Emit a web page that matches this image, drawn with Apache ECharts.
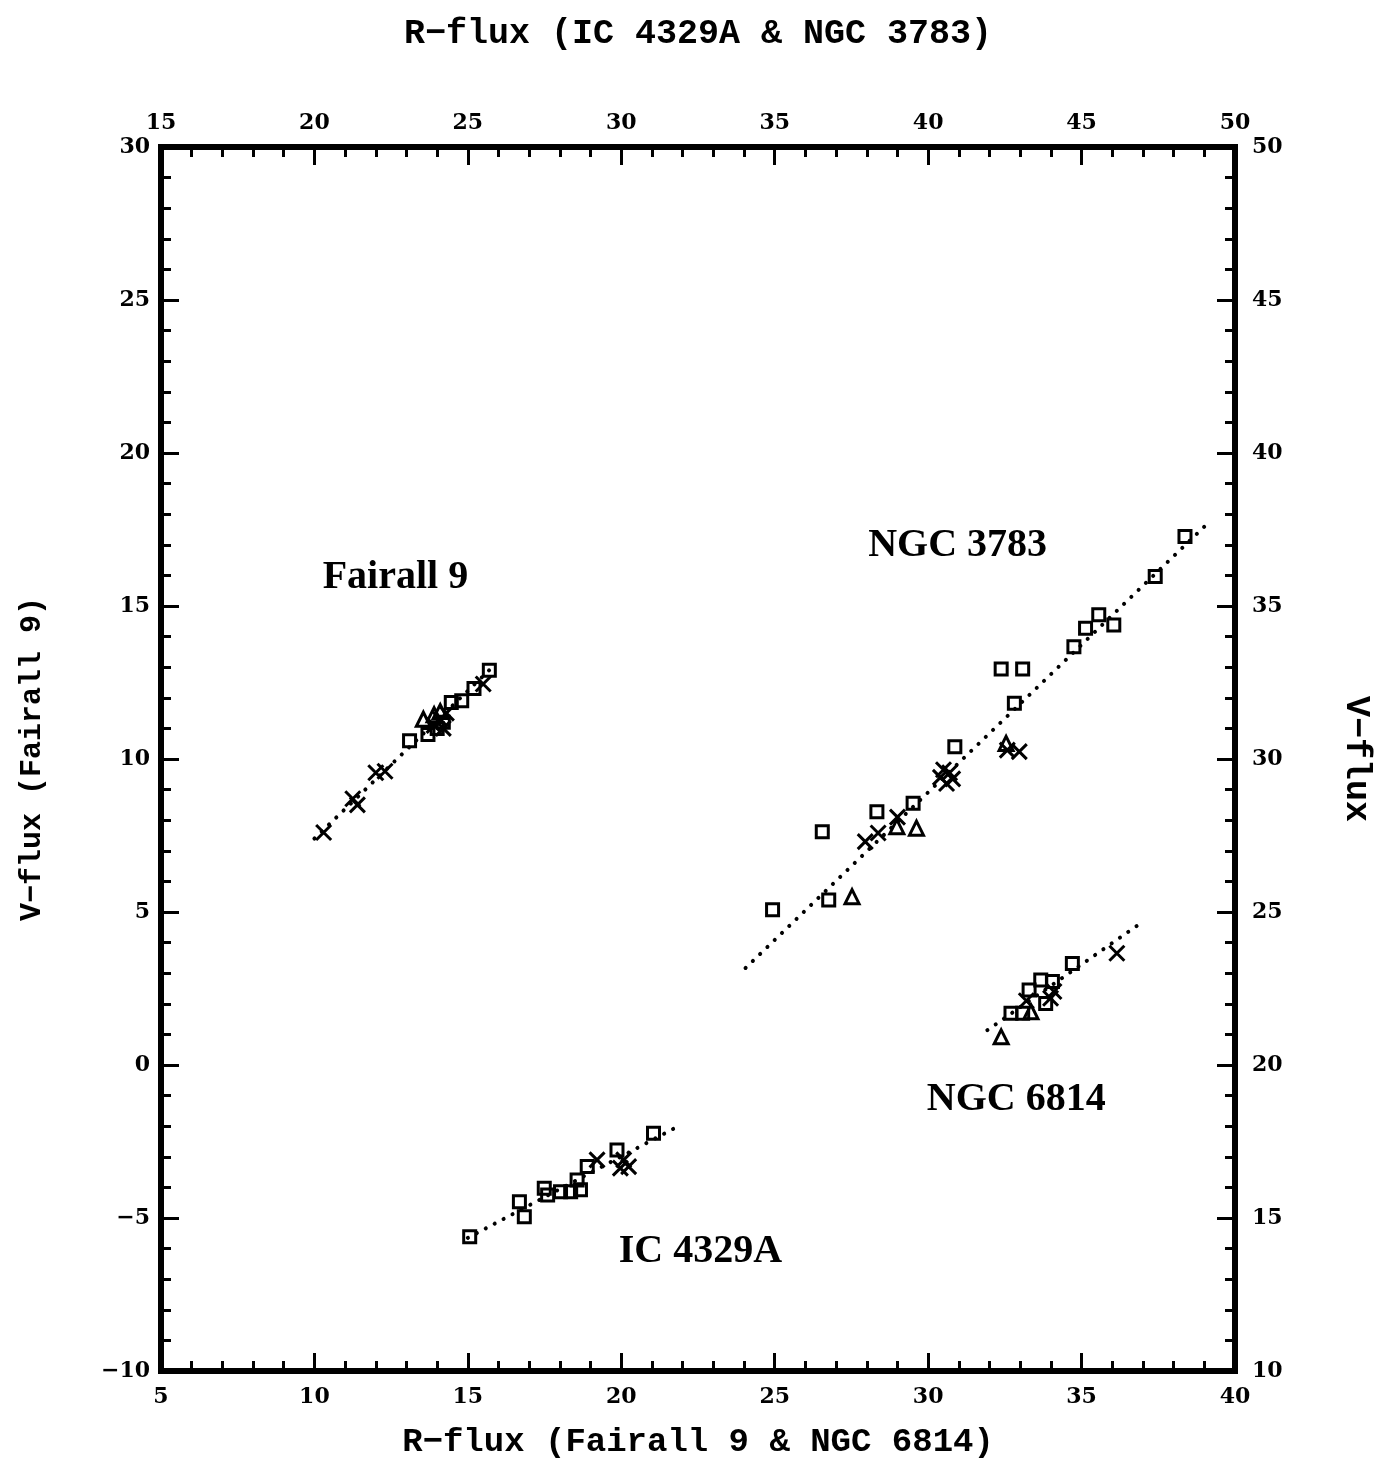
<!DOCTYPE html>
<html>
<head>
<meta charset="utf-8">
<script src="https://cdn.jsdelivr.net/npm/echarts@6/dist/echarts.min.js"></script>
<style>
  html, body { margin: 0; padding: 0; background: #fff; }
  #chart { width: 1381px; height: 1464px; }
</style>
</head>
<body>
<div id="chart"></div>
<script>
// ---- Fairall 9 : bottom R-flux axis, left V-flux axis ----
const fairall9Squares = [[13.1, 10.6], [13.7, 10.8], [14.0, 11.0], [14.2, 11.2], [14.46, 11.85],
  [14.8, 11.9], [15.2, 12.3], [15.7, 12.9]];
const fairall9Triangles = [[13.55, 11.3], [13.9, 11.45], [14.1, 11.55]];
const fairall9Crosses = [[10.3, 7.6], [11.25, 8.7], [11.4, 8.5], [12.0, 9.55], [12.3, 9.6],
  [13.9, 11.1], [14.1, 11.3], [14.3, 11.5], [14.2, 11.0], [15.5, 12.45]];
const fairall9Fit = [[10.0, 7.4], [15.9, 13.1]];

// ---- NGC 6814 : bottom R-flux axis, left V-flux axis ----
const ngc6814Squares = [[32.7, 1.69], [33.08, 1.69], [33.29, 2.45], [33.67, 2.78], [34.05, 2.73],
  [33.83, 2.01], [34.7, 3.32]];
const ngc6814Triangles = [[32.38, 0.92], [33.35, 1.74]];
const ngc6814Crosses = [[34.1, 2.4], [33.99, 2.18], [33.2, 2.1], [36.15, 3.65]];
const ngc6814Fit = [[31.93, 1.14], [36.85, 4.58]];

// ---- NGC 3783 : top R-flux axis, right V-flux axis ----
const ngc3783Squares = [[34.93, 25.07], [36.76, 25.39], [36.55, 27.62], [38.33, 28.28], [39.51, 28.55],
  [40.87, 30.4], [42.81, 31.82], [42.38, 32.94], [43.08, 32.94], [44.75, 33.67], [45.13, 34.27],
  [45.56, 34.71], [46.05, 34.38], [47.4, 35.96], [48.37, 37.27]];
const ngc3783Triangles = [[37.52, 25.5], [38.98, 27.79], [39.62, 27.74], [42.54, 30.51]];
const ngc3783Crosses = [[37.95, 27.3], [38.37, 27.58], [39.0, 28.1], [40.4, 29.4], [40.6, 29.2],
  [40.7, 29.55], [40.5, 29.65], [40.8, 29.35], [42.58, 30.29], [42.97, 30.24]];
const ngc3783Fit = [[34.05, 23.17], [49.12, 37.71]];

// ---- IC 4329A : top R-flux axis, right V-flux axis ----
const ic4329aSquares = [[25.06, 14.39], [26.68, 15.53], [26.84, 15.04], [27.49, 15.97], [27.6, 15.75],
  [28.02, 15.86], [28.35, 15.86], [28.67, 15.92], [28.56, 16.24], [28.89, 16.68], [29.86, 17.22],
  [31.05, 17.77]];
const ic4329aCrosses = [[29.21, 16.9], [30.08, 16.9], [30.24, 16.68], [29.97, 16.63]];
const ic4329aFit = [[25.0, 14.35], [31.8, 17.97]];

// ---- object labels (bottom / left scales) ----
const objectLabels = [
  { name: 'Fairall 9', value: [12.64, 15.92] },
  { name: 'NGC 3783', value: [30.96, 16.96] },
  { name: 'NGC 6814', value: [32.87, -1.14] },
  { name: 'IC 4329A', value: [22.58, -6.11] }
];

// ---- axis ranges ----
const bottomX = { min: 5, max: 40, step: 5 };
const topX = { min: 15, max: 50, step: 5 };
const leftY = { min: -10, max: 30, step: 5 };
const rightY = { min: 10, max: 50, step: 5 };

const CROSS = 'path://M0,0L10,10M10,0L0,10';
const TICK_FONT = { fontFamily: 'DejaVu Serif', fontWeight: 'bold', fontSize: 22, color: '#000' };
const NAME_FONT = { fontFamily: 'Liberation Mono', fontWeight: 'bold', color: '#000' };

function fmt(v) { return String(v).replace('-', '\u2212'); }

function axisBase(range) {
  return {
    type: 'value',
    min: range.min, max: range.max, interval: range.step,
    axisLine: { show: true, onZero: false, lineStyle: { color: '#000', width: 6, cap: 'square' } },
    axisTick: { show: true, inside: true, length: 18, lineStyle: { color: '#000', width: 3 } },
    minorTick: { show: true, splitNumber: 5, length: 10, lineStyle: { color: '#000', width: 3 } },
    splitLine: { show: false },
    minorSplitLine: { show: false },
    axisLabel: Object.assign({ formatter: fmt }, TICK_FONT)
  };
}

function marks(data, symbol, size, xi, yi) {
  return {
    type: 'scatter', data: data, symbol: symbol, symbolSize: size,
    xAxisIndex: xi, yAxisIndex: yi, silent: true, z: 4,
    itemStyle: { color: 'none', borderColor: '#000', borderWidth: 3, opacity: 1 }
  };
}

function fitLine(data, xi, yi) {
  return {
    type: 'line', data: data, symbol: 'none', silent: true, z: 3,
    xAxisIndex: xi, yAxisIndex: yi,
    lineStyle: { color: '#000', width: 4, type: [0.1, 10], cap: 'round', opacity: 1 }
  };
}

const chart = echarts.init(document.getElementById('chart'), null, { renderer: 'canvas' });

chart.setOption({
  animation: false,
  backgroundColor: '#fff',
  grid: { left: 161, right: 139, top: 147, bottom: 93, containLabel: false },
  xAxis: [
    Object.assign(axisBase(bottomX), {
      position: 'bottom',
      name: 'R\u2212flux (Fairall 9 & NGC 6814)', nameLocation: 'middle', nameGap: 54,
      nameTextStyle: Object.assign({ fontSize: 34 }, NAME_FONT),
      axisLabel: Object.assign({ formatter: fmt, margin: 15 }, TICK_FONT)
    }),
    Object.assign(axisBase(topX), {
      position: 'top',
      name: 'R\u2212flux (IC 4329A & NGC 3783)', nameLocation: 'middle', nameGap: 95,
      nameTextStyle: Object.assign({ fontSize: 35 }, NAME_FONT),
      axisLabel: Object.assign({ formatter: fmt, margin: 13 }, TICK_FONT)
    })
  ],
  yAxis: [
    Object.assign(axisBase(leftY), {
      position: 'left',
      name: 'V\u2212flux (Fairall 9)', nameLocation: 'middle', nameGap: 114, nameRotate: 90,
      nameTextStyle: Object.assign({ fontSize: 30 }, NAME_FONT),
      axisLabel: Object.assign({ formatter: fmt, margin: 11 }, TICK_FONT)
    }),
    Object.assign(axisBase(rightY), {
      position: 'right',
      name: 'V\u2212flux', nameLocation: 'middle', nameGap: 103, nameRotate: -90,
      nameTextStyle: Object.assign({ fontSize: 35 }, NAME_FONT),
      axisLabel: Object.assign({ formatter: fmt, margin: 17 }, TICK_FONT)
    })
  ],
  series: [
    fitLine(fairall9Fit, 0, 0),
    marks(fairall9Squares, 'rect', 12, 0, 0),
    marks(fairall9Triangles, 'triangle', 14, 0, 0),
    marks(fairall9Crosses, CROSS, 15, 0, 0),

    fitLine(ngc6814Fit, 0, 0),
    marks(ngc6814Squares, 'rect', 12, 0, 0),
    marks(ngc6814Triangles, 'triangle', 14, 0, 0),
    marks(ngc6814Crosses, CROSS, 15, 0, 0),

    fitLine(ngc3783Fit, 1, 1),
    marks(ngc3783Squares, 'rect', 12, 1, 1),
    marks(ngc3783Triangles, 'triangle', 14, 1, 1),
    marks(ngc3783Crosses, CROSS, 15, 1, 1),

    fitLine(ic4329aFit, 1, 1),
    marks(ic4329aSquares, 'rect', 12, 1, 1),
    marks(ic4329aCrosses, CROSS, 15, 1, 1),

    {
      type: 'scatter', data: objectLabels, symbolSize: 1, silent: true, z: 5,
      xAxisIndex: 0, yAxisIndex: 0,
      itemStyle: { color: 'rgba(0,0,0,0)', opacity: 1 },
      label: {
        show: true, position: 'inside', formatter: '{b}', opacity: 1,
        fontFamily: 'Liberation Serif', fontWeight: 'bold', fontSize: 40, color: '#000'
      }
    }
  ]
});
</script>
</body>
</html>
